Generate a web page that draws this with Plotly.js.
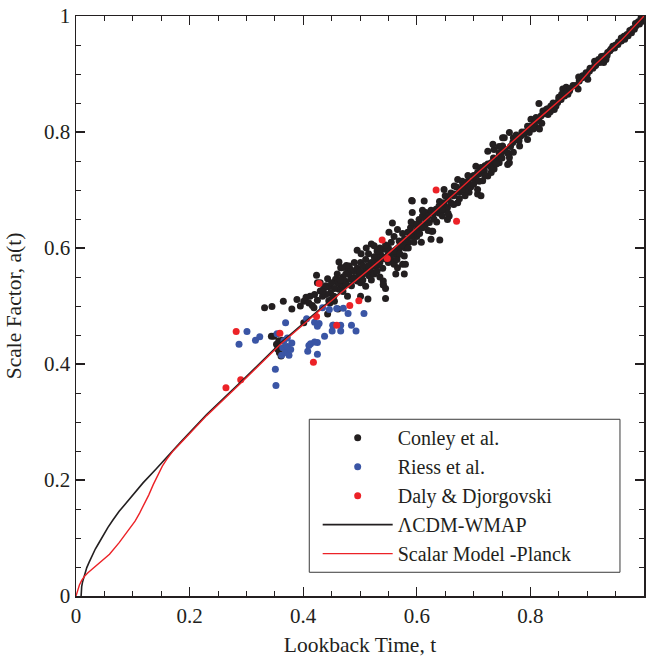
<!DOCTYPE html>
<html>
<head>
<meta charset="utf-8">
<script src="https://cdn.plot.ly/plotly-3.0.1.min.js"></script>
<style>
html,body{margin:0;padding:0;background:#fff;}
#chart{width:646px;height:658px;}
</style>
</head>
<body>
<div id="chart"></div>
<script>
// ---- Data ----
var conleyT = [0.332,0.345,0.365,0.389,0.401,0.412,0.416,0.419,0.401,0.344,0.363,0.353,0.355,0.358,0.361,0.357,0.425,0.4235,0.43,0.434,0.436,0.443,0.445,0.448,0.454,0.457,0.463,0.463,0.466,0.472,0.478,0.478,0.481,0.445,0.447,0.45,0.455,0.461,0.443,0.453,0.467,0.473,0.476,0.4835,0.489,0.495,0.498,0.501,0.504,0.51,0.516,0.519,0.525,0.529,0.536,0.542,0.545,0.554,0.557,0.56,0.566,0.575,0.578,0.566,0.569,0.578,0.584,0.589,0.595,0.601,0.604,0.61,0.616,0.622,0.628,0.634,0.639,0.648,0.654,0.66,0.672,0.495,0.545,0.6405,0.592,0.613,0.625,0.608,0.58,0.578,0.545,0.514,0.501,0.4835,0.563,0.541,0.541,0.348,0.366,0.501,0.488,0.508,0.502,0.511,0.52,0.525,0.535,0.513,0.525,0.535,0.541,0.56,0.566,0.476,0.468,0.648,0.647,0.651,0.654,0.657,0.666,0.672,0.666,0.675,0.681,0.686,0.692,0.707,0.713,0.701,0.704,0.713,0.719,0.716,0.728,0.725,0.731,0.734,0.736,0.745,0.748,0.751,0.754,0.763,0.760,0.763,0.760,0.769,0.775,0.781,0.783,0.789,0.795,0.798,0.801,0.807,0.810,0.816,0.819,0.822,0.815,0.828,0.831,0.836,0.842,0.848,0.854,0.857,0.863,0.866,0.860,0.869,0.884,0.886,0.892,0.898,0.901,0.904,0.913,0.922,0.928,0.930,0.936,0.942,0.948,0.954,0.960,0.913,0.933,0.972,0.983,0.992,0.998,0.978,0.966,0.986,0.929,0.734,0.725,0.751,0.591,0.686,0.692,0.707,0.707,0.731,0.736,0.745,0.763,0.557,0.566,0.551,0.626,0.592,0.52,0.53,0.55,0.57,0.585,0.595,0.6,0.615,0.62,0.63,0.64,0.645,0.655,0.665,0.68,0.69,0.7,0.71,0.72,0.74,0.75,0.77,0.785,0.8,0.825,0.84,0.85,0.875,0.89,0.91,0.92,0.94,0.95,0.965,0.975,0.99,0.995,0.48,0.49,0.51,0.47,0.46,0.44,0.53,0.58,0.605,
  0.47,0.475,0.485,0.49,0.495,0.5,0.505,0.505,0.51,0.515,0.515,0.52,0.525,0.53,0.53,0.535,0.54,0.54,0.545,0.55,0.55,0.555,0.56,0.56,0.565,0.57,0.575,0.575,0.58,0.585,0.59,0.59,0.595,0.6,0.605,0.61,0.61,0.615,0.62,0.625,0.63,0.635,0.64,0.645,0.65,0.655,0.66,0.665,0.67,0.675,0.68,0.685,0.69,0.695,0.7,0.705,0.71,0.715,0.72,0.725,0.73,0.735,0.74,0.745,0.75,0.755,0.765,0.77,0.775,0.78,0.79,0.795,0.805,0.81,0.815,0.82,0.83,0.835,0.845,0.85,0.855,0.865,0.87,0.88,0.885,0.895,0.9,0.905,0.915,0.925,0.935,0.945,0.955,0.96,0.97,0.98,0.985,0.99,0.995,
  0.38,0.395,0.405,0.41,0.42,0.425,0.43,0.435,0.44,0.45,0.455,0.46,0.465,0.47];
var conleyA = [0.497,0.499,0.508,0.511,0.508,0.517,0.501,0.497,0.471,0.448,0.441,0.434,0.426,0.42,0.414,0.44,0.540,0.553,0.526,0.517,0.53,0.547,0.533,0.523,0.517,0.546,0.529,0.576,0.566,0.534,0.517,0.563,0.569,0.509,0.505,0.512,0.508,0.495,0.486,0.467,0.538,0.543,0.537,0.546,0.549,0.543,0.552,0.540,0.555,0.534,0.552,0.56,0.569,0.578,0.589,0.598,0.581,0.581,0.589,0.572,0.566,0.572,0.586,0.598,0.612,0.615,0.627,0.635,0.641,0.632,0.649,0.655,0.661,0.644,0.629,0.667,0.672,0.678,0.670,0.678,0.678,0.596,0.513,0.614,0.681,0.681,0.615,0.610,0.572,0.555,0.53,0.512,0.575,0.563,0.555,0.543,0.536,0.448,0.428,0.517,0.546,0.556,0.59,0.6,0.607,0.604,0.6,0.562,0.555,0.55,0.537,0.575,0.587,0.57,0.566,0.701,0.672,0.667,0.649,0.655,0.707,0.718,0.693,0.696,0.710,0.707,0.696,0.693,0.690,0.718,0.741,0.739,0.733,0.716,0.744,0.724,0.730,0.741,0.770,0.764,0.759,0.776,0.790,0.799,0.764,0.756,0.744,0.782,0.787,0.776,0.793,0.796,0.787,0.799,0.822,0.816,0.808,0.805,0.828,0.836,0.849,0.839,0.830,0.845,0.839,0.851,0.856,0.874,0.877,0.865,0.862,0.871,0.874,0.888,0.897,0.902,0.891,0.905,0.914,0.920,0.925,0.931,0.937,0.943,0.945,0.951,0.957,0.922,0.925,0.966,0.977,0.986,0.991,0.971,0.96,0.983,0.92,0.779,0.767,0.79,0.682,0.696,0.707,0.701,0.730,0.747,0.736,0.747,0.747,0.643,0.632,0.627,0.629,0.661,0.575,0.585,0.6,0.6,0.61,0.625,0.62,0.64,0.655,0.65,0.66,0.665,0.685,0.69,0.7,0.715,0.725,0.728,0.742,0.752,0.766,0.79,0.8,0.81,0.832,0.85,0.86,0.88,0.893,0.91,0.925,0.94,0.95,0.965,0.975,0.99,0.995,0.555,0.56,0.565,0.55,0.54,0.52,0.57,0.6,0.64,
  0.545,0.555,0.535,0.575,0.565,0.56,0.57,0.545,0.58,0.57,0.59,0.545,0.585,0.56,0.595,0.575,0.565,0.585,0.605,0.575,0.59,0.61,0.595,0.62,0.58,0.59,0.605,0.625,0.615,0.6,0.62,0.645,0.61,0.64,0.625,0.635,0.665,0.65,0.63,0.665,0.66,0.645,0.68,0.655,0.69,0.66,0.695,0.675,0.705,0.685,0.715,0.69,0.725,0.705,0.71,0.725,0.715,0.735,0.725,0.745,0.74,0.755,0.745,0.775,0.755,0.77,0.775,0.765,0.795,0.785,0.8,0.81,0.805,0.825,0.82,0.815,0.84,0.835,0.845,0.855,0.865,0.87,0.875,0.88,0.895,0.895,0.9,0.91,0.915,0.93,0.932,0.948,0.955,0.962,0.968,0.978,0.987,0.988,0.997,
  0.495,0.5,0.515,0.505,0.52,0.51,0.54,0.525,0.535,0.54,0.53,0.555,0.545,0.525];

var riessT = [0.287,0.301,0.316,0.3235,0.351,0.352,0.354,0.362,0.364,0.366,0.369,0.37,0.372,0.375,0.378,0.38,0.372,0.406,0.408,0.41,0.413,0.42,0.425,0.425,0.42,0.425,0.428,0.4376,0.434,0.446,0.459,0.4706,0.479,0.452,0.466,0.451,0.466,0.485,0.493,0.507];
var riessA = [0.434,0.456,0.441,0.447,0.391,0.363,0.452,0.415,0.428,0.44,0.471,0.42,0.43,0.415,0.425,0.436,0.445,0.478,0.422,0.432,0.435,0.438,0.437,0.417,0.472,0.465,0.47,0.448,0.497,0.494,0.4955,0.496,0.487,0.467,0.467,0.457,0.457,0.467,0.457,0.487];

var dalyT = [0.264,0.282,0.29,0.359,0.418,0.4235,0.428,0.459,0.482,0.498,0.539,0.548,0.634,0.670];
var dalyA = [0.359,0.456,0.373,0.453,0.403,0.482,0.539,0.467,0.501,0.509,0.614,0.582,0.700,0.646];

var lcdmT = [0.009,0.0093,0.010,0.0115,0.0135,0.016,0.019,0.023,0.028,0.034,0.040,0.047,0.056,0.065,0.076,0.088,0.100,0.118,0.141,0.160,0.1835,0.23,0.289,0.36,0.43,0.548,0.62,0.695,0.8,0.884,0.913,0.96,1.0];
var lcdmA = [0,0.008,0.016,0.024,0.032,0.040,0.049,0.058,0.070,0.081,0.091,0.103,0.118,0.131,0.146,0.160,0.174,0.195,0.219,0.240,0.2645,0.313,0.368,0.436,0.495,0.59,0.653,0.719,0.811,0.883,0.916,0.958,1.0];

var scalarT = [0,0.003,0.006,0.010,0.015,0.021,0.028,0.035,0.047,0.059,0.076,0.094,0.104,0.112,0.120,0.128,0.136,0.144,0.152,0.160,0.170,0.1835,0.23,0.289,0.36,0.43,0.548,0.62,0.695,0.8,0.884,0.913,0.96,1.0];
var scalarA = [0,0.010,0.019,0.027,0.034,0.040,0.046,0.052,0.061,0.072,0.092,0.115,0.129,0.143,0.158,0.174,0.192,0.209,0.224,0.236,0.249,0.263,0.311,0.366,0.434,0.493,0.589,0.652,0.719,0.811,0.882,0.915,0.958,1.0];

var seriesNames = ['Conley et al.', 'Riess et al.', 'Daly & Djorgovski', '\u039BCDM-WMAP', 'Scalar Model -Planck'];
var tickVals = [0, 0.2, 0.4, 0.6, 0.8, 1];
var tickText = ['0', '0.2', '0.4', '0.6', '0.8', '1'];

// ---- Styling ----
var FONT = 'Liberation Serif';
var FONT2 = 'Times New Roman';
var INK = '#231f20';
var BLUE = '#3a55a5';
var RED = '#ec2227';

var traces = [
  {x: conleyT, y: conleyA, name: seriesNames[0], type: 'scatter', mode: 'markers',
   marker: {color: INK, size: 7}},
  {x: riessT, y: riessA, name: seriesNames[1], type: 'scatter', mode: 'markers',
   marker: {color: BLUE, size: 7}},
  {x: dalyT, y: dalyA, name: seriesNames[2], type: 'scatter', mode: 'markers',
   marker: {color: RED, size: 7}},
  {x: lcdmT, y: lcdmA, name: seriesNames[3], type: 'scatter', mode: 'lines',
   line: {color: INK, width: 1.6}},
  {x: scalarT, y: scalarA, name: seriesNames[4], type: 'scatter', mode: 'lines',
   line: {color: RED, width: 1.4}}
];

function axisBase() {
  return {
    range: [0, 1], autorange: false,
    showline: true, linecolor: INK, linewidth: 1.5, mirror: 'allticks',
    ticks: 'inside', ticklen: 9, tickwidth: 1.2, tickcolor: INK,
    tickmode: 'array', tickvals: tickVals, ticktext: tickText,
    minor: {dtick: 0.05, tick0: 0, ticks: 'inside', ticklen: 5, tickwidth: 1, tickcolor: INK, showgrid: false},
    tickfont: {family: FONT2, size: 21, color: INK},
    showgrid: false, zeroline: false, automargin: false
  };
}

var xaxis = axisBase();
xaxis.title = {text: 'Lookback Time, t', font: {family: FONT, size: 21.5, color: INK}, standoff: 10};
var yaxis = axisBase();
yaxis.title = {text: 'Scale Factor, a(t)', font: {family: FONT, size: 21.5, color: INK}, standoff: 16};

var layout = {
  width: 646, height: 658,
  font: {family: FONT2, size: 20, color: INK},
  margin: {l: 76, r: 2, t: 16, b: 62, pad: 0},
  paper_bgcolor: '#fff', plot_bgcolor: '#fff',
  xaxis: xaxis, yaxis: yaxis,
  showlegend: true,
  legend: {
    x: 0.4255, y: 0.3066, xanchor: 'left', yanchor: 'top',
    bgcolor: 'rgba(0,0,0,0)', borderwidth: 0,
    font: {family: FONT2, size: 20, color: INK},
    itemwidth: 70, tracegroupgap: 0
  },
  shapes: [{
    type: 'rect', xref: 'paper', yref: 'paper',
    x0: 0.4107, x1: 0.9577, y0: 0.0409, y1: 0.3047,
    line: {color: '#3a3a3a', width: 1}, fillcolor: '#fff', layer: 'above'
  }]
};

Plotly.newPlot('chart', traces, layout, {displayModeBar: false, staticPlot: true});
</script>
</body>
</html>
